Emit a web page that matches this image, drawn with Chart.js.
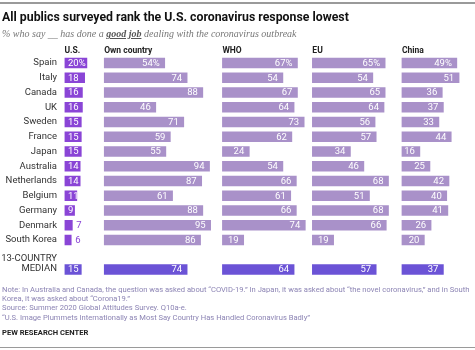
<!DOCTYPE html>
<html>
<head>
<meta charset="utf-8">
<script src="https://cdn.jsdelivr.net/npm/chart.js@4/dist/chart.umd.min.js"></script>
<style>
  html, body { margin: 0; padding: 0; background: #fff; }
  #wrap { position: relative; width: 475px; height: 350px; overflow: hidden; font-family: Roboto, "Liberation Sans", sans-serif; }
  #c { position: absolute; left: 0; top: 0; }
  .rule { position: absolute; left: 0; width: 475px; height: 1.5px; background: #9a9a9a; }
  #title { position: absolute; left: 2px; top: 10px; font-weight: bold; font-size: 12.3px; line-height: 14px; color: #111; white-space: nowrap; }
  #sub { position: absolute; left: 2px; top: 28px; font-family: "Liberation Serif", serif; font-style: italic; font-size: 10px; line-height: 12px; color: #777; white-space: nowrap; }
  #sub b { color: #555; text-decoration: underline; }
  #notes { position: absolute; left: 2px; top: 284.7px; font-size: 7.6px; line-height: 9.3px; color: #8c84b4; white-space: nowrap; }
  #pew { position: absolute; left: 2px; top: 328px; font-size: 7.6px; line-height: 9px; font-weight: bold; color: #222; white-space: nowrap; }
</style>
</head>
<body>
<div id="wrap">
  <div class="rule" style="top:2px"></div>
  <canvas id="c" width="475" height="350"></canvas>
  <div id="title">All publics surveyed rank the U.S. coronavirus response lowest</div>
  <div id="sub">% who say __ has done a <b>good job</b> dealing with the coronavirus outbreak</div>
  <div id="notes">Note: In Australia and Canada, the question was asked about “COVID-19.” In Japan, it was asked about “the novel coronavirus,” and in South<br>Korea, it was asked about “Corona19.”<br>Source: Summer 2020 Global Attitudes Survey. Q10a-e.<br>“U.S. Image Plummets Internationally as Most Say Country Has Handled Coronavirus Badly”</div>
  <div id="pew">PEW RESEARCH CENTER</div>
  <div class="rule" style="top:346.5px"></div>
</div>
<script>
const CATEGORIES = ['Spain','Italy','Canada','UK','Sweden','France','Japan','Australia','Netherlands','Belgium','Germany','Denmark','South Korea','',['13-COUNTRY','MEDIAN']];
const COLUMNS = ['U.S.','Own country','WHO','EU','China'];
const US_VALUES      = [20,18,16,16,15,15,15,14,14,11,9,7,6,null,15];
const OWN_VALUES     = [54,74,88,46,71,59,55,94,87,61,88,95,86,null,74];
const WHO_VALUES     = [67,54,67,64,73,62,24,54,66,61,66,74,19,null,64];
const EU_VALUES      = [65,54,65,64,56,57,34,46,68,51,68,66,19,null,57];
const CHINA_VALUES   = [49,51,36,37,33,44,16,25,42,40,41,26,20,null,37];
const SERIES = [US_VALUES, OWN_VALUES, WHO_VALUES, EU_VALUES, CHINA_VALUES];

// layout: column start positions on the shared percent axis
const COL_START = [0, 35.5, 141, 221.3, 301.3];
const X_MAX = 362;
const MEDIAN_INDEX = CATEGORIES.length - 1;

const C_US = '#8a45d6';
const C_LIGHT = '#a991c9';
const C_MEDIAN = '#6b53d6';

const labelPlugin = {
  id: 'labels',
  afterDatasetsDraw(chart) {
    const ctx = chart.ctx;
    const y = chart.scales.y, x = chart.scales.x;
    ctx.save();
    chart.data.datasets.forEach((ds, c) => {
      const meta = chart.getDatasetMeta(c);
      meta.data.forEach((el, i) => {
        const v = SERIES[c][i];
        if (v == null) return;
        const txt = i === 0 ? v + '%' : String(v);
        ctx.font = '9.5px Roboto, "Liberation Sans", sans-serif';
        ctx.textBaseline = 'middle';
        const start = Math.min(el.base, el.x), end = Math.max(el.base, el.x);
        if (c === 0) {
          if (v < 8) {
            ctx.fillStyle = C_US; ctx.textAlign = 'left';
            ctx.fillText(txt, end + 4, el.y + 0.5);
          } else {
            ctx.fillStyle = '#fff'; ctx.textAlign = 'left';
            ctx.fillText(txt, start + 3.5, el.y + 0.5);
          }
        } else {
          ctx.fillStyle = '#fff'; ctx.textAlign = 'right';
          ctx.fillText(txt, end - 5, el.y + 0.5);
        }
      });
    });
    ctx.font = '9.5px Roboto, "Liberation Sans", sans-serif';
    ctx.fillStyle = '#333';
    ctx.textAlign = 'right';
    ctx.textBaseline = 'middle';
    const lx = chart.chartArea.left - 7.5;
    CATEGORIES.forEach((lab, i) => {
      const py = y.getPixelForValue(i);
      if (Array.isArray(lab)) {
        ctx.fillText(lab[0], lx, py - 10.5);
        ctx.fillText(lab[1], lx, py - 0.5);
      } else if (lab) {
        ctx.fillText(lab, lx, py);
      }
    });
    ctx.font = 'bold 8.5px Roboto, "Liberation Sans", sans-serif';
    ctx.fillStyle = '#222';
    ctx.textAlign = 'left';
    COLUMNS.forEach((h, c) => {
      ctx.fillText(h, x.getPixelForValue(COL_START[c]), chart.chartArea.top - 5);
    });
    ctx.restore();
  }
};

new Chart(document.getElementById('c'), {
  type: 'bar',
  data: {
    labels: CATEGORIES,
    datasets: SERIES.map((vals, c) => ({
      label: COLUMNS[c],
      data: vals.map(v => v == null ? null : [COL_START[c], COL_START[c] + v]),
      backgroundColor: (ctx) => ctx.dataIndex === MEDIAN_INDEX ? C_MEDIAN : (c === 0 ? C_US : C_LIGHT),
      barThickness: 10,
      grouped: false,
      borderWidth: 0
    }))
  },
  options: {
    indexAxis: 'y',
    responsive: false,
    animation: false,
    devicePixelRatio: 1,
    layout: { padding: { left: 64.5, top: 55.6, right: 475 - 64.5 - X_MAX * 1.12, bottom: 73.1 } },
    plugins: { legend: { display: false }, tooltip: { enabled: false }, title: { display: false } },
    scales: {
      x: { type: 'linear', min: 0, max: X_MAX, display: false },
      y: { type: 'category', display: false, offset: true }
    }
  },
  plugins: [labelPlugin]
});
</script>
</body>
</html>
